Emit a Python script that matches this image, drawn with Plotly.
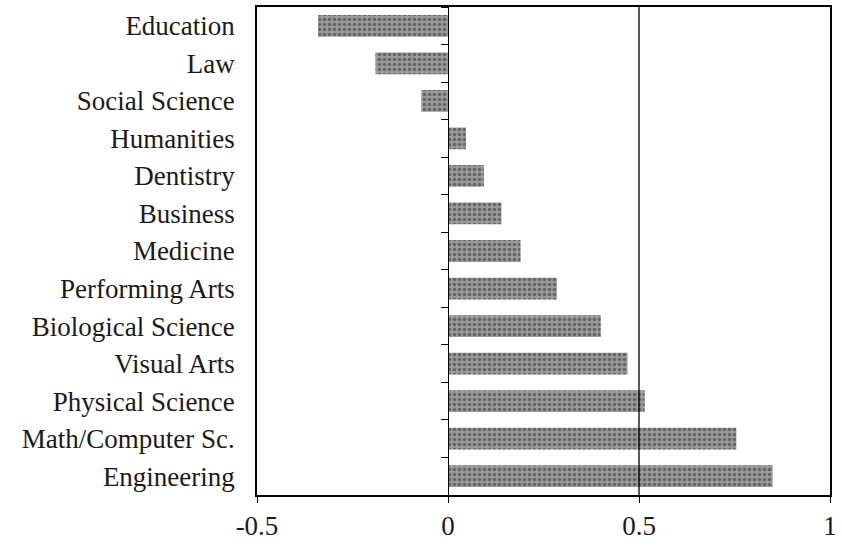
import plotly.graph_objects as go

categories = ["Education", "Law", "Social Science", "Humanities", "Dentistry",
              "Business", "Medicine", "Performing Arts", "Biological Science",
              "Visual Arts", "Physical Science", "Math/Computer Sc.", "Engineering"]
values = [-0.34, -0.19, -0.07, 0.047, 0.094, 0.14, 0.19, 0.285, 0.40,
          0.47, 0.515, 0.755, 0.85]
x_tickvals = [-0.5, 0, 0.5, 1]
x_ticktext = ["-0.5", "0", "0.5", "1"]
x_range = [-0.5, 1.0]
ref_line_x = 0.5

FONT = "Liberation Serif, Times New Roman, serif"
FS = 27

fig = go.Figure()
fig.add_trace(go.Bar(
    x=values, y=categories, orientation="h",
    marker=dict(color="#9a9a9a", line=dict(width=0),
                pattern=dict(shape=".", fgcolor="#303030", size=5, solidity=0.4,
                             fillmode="overlay")),
    width=0.58, hoverinfo="skip", showlegend=False,
))
# invisible trace to give the zero axis (y2) its categories
fig.add_trace(go.Scatter(
    x=[0] * len(categories), y=categories, yaxis="y2", mode="markers",
    marker=dict(opacity=0), hoverinfo="skip", showlegend=False,
))

n = len(categories)
zero_pos = (0 - x_range[0]) / (x_range[1] - x_range[0])

fig.add_shape(type="line", x0=ref_line_x, x1=ref_line_x, xref="x", y0=0, y1=1,
              yref="paper", line=dict(color="black", width=1.3))

fig.update_layout(
    width=842, height=546,
    margin=dict(l=257, r=10, t=5, b=48),
    paper_bgcolor="white", plot_bgcolor="white",
    font=dict(family=FONT, size=FS, color="#1a1a1a"),
    xaxis=dict(range=x_range, tickvals=x_tickvals, ticktext=x_ticktext,
               showgrid=False, zeroline=False, showline=True, linecolor="black",
               linewidth=2, mirror=True, ticks="outside", ticklen=6,
               tickcolor="black", tickwidth=1.3,
               tickfont=dict(family=FONT, size=FS, color="#1a1a1a")),
    yaxis=dict(type="category", categoryorder="array", categoryarray=categories,
               range=[n - 0.5, -0.5], showgrid=False, zeroline=False,
               showline=True, linecolor="black", linewidth=1.5, mirror=True,
               ticks="", ticklabelstandoff=15,
               tickfont=dict(family=FONT, size=FS, color="#1a1a1a")),
    yaxis2=dict(type="category", categoryorder="array", categoryarray=categories,
                range=[n - 0.5, -0.5], overlaying="y", anchor="free",
                position=zero_pos, side="left", showgrid=False, zeroline=False,
                showline=True, linecolor="black", linewidth=1.3,
                showticklabels=False, ticks="outside", ticklen=7,
                tickwidth=1.2, tickcolor="black", tickson="boundaries"),
    bargap=0.42,
)

fig.write_html("out.html", config={"displayModeBar": False},
               post_script="document.body.style.margin='0';document.body.style.overflow='hidden';")
